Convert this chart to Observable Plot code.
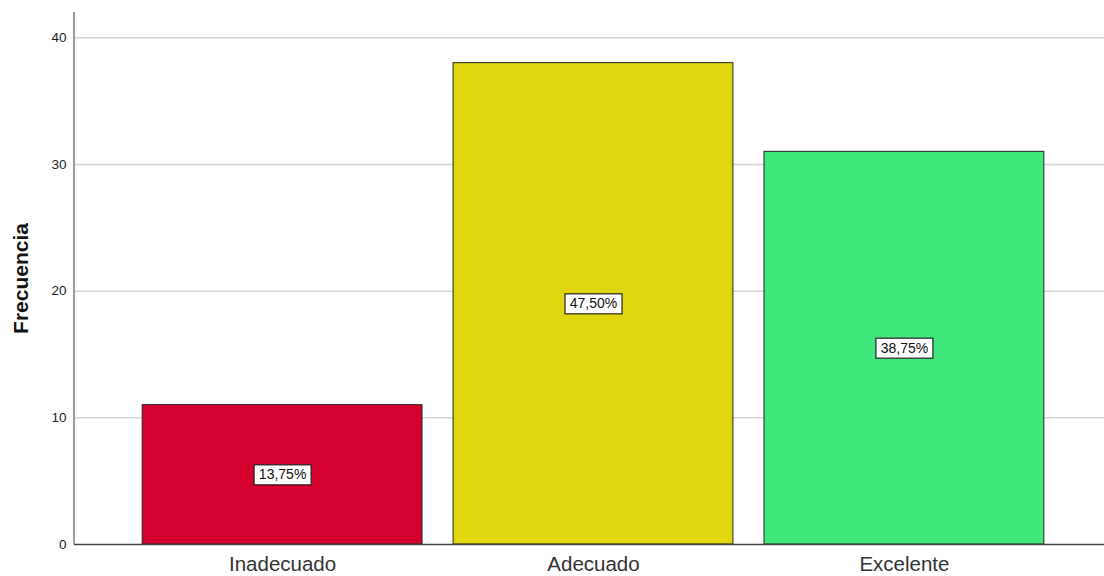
<!DOCTYPE html>
<html>
<head>
<meta charset="utf-8">
<script src="https://cdn.jsdelivr.net/npm/d3@7"></script>
<script src="https://cdn.jsdelivr.net/npm/@observablehq/plot@0.6"></script>
<style>
  html, body { margin: 0; padding: 0; background: #fff; }
  svg { display: block; }
</style>
</head>
<body>
<div id="chart"></div>
<script>
const categories = ["Inadecuado", "Adecuado", "Excelente"];
const counts = [11, 38, 31];
const percentLabels = ["13,75%", "47,50%", "38,75%"];
const colors = ["#D6002F", "#E2D70E", "#40E87C"];
const yTicks = [0, 10, 20, 30, 40];

const data = categories.map((c, i) => ({cat: c, n: counts[i], pct: percentLabels[i], mid: counts[i] / 2}));

const SVGNS = "http://www.w3.org/2000/svg";

const boxedText = (index, scales, values, dims, ctx, next) => {
  const g = next(index, scales, values, dims, ctx);
  index.forEach((i) => {
    const w = 57, h = 20;
    const r = document.createElementNS(SVGNS, "rect");
    r.setAttribute("x", values.x[i] - w / 2);
    r.setAttribute("y", values.y[i] - h / 2);
    r.setAttribute("width", w);
    r.setAttribute("height", h);
    r.setAttribute("fill", "#fff");
    r.setAttribute("stroke", "#222");
    r.setAttribute("stroke-width", 1.2);
    g.insertBefore(r, g.firstChild);
  });
  return g;
};

const leftAxisLine = (index, scales, values, dims) => {
  const l = document.createElementNS(SVGNS, "line");
  l.setAttribute("x1", dims.marginLeft);
  l.setAttribute("x2", dims.marginLeft);
  l.setAttribute("y1", dims.marginTop);
  l.setAttribute("y2", dims.height - dims.marginBottom);
  l.setAttribute("stroke", "#9a9a9a");
  l.setAttribute("stroke-width", 2);
  return l;
};

const chart = Plot.plot({
  width: 1104,
  height: 576,
  marginLeft: 74,
  marginRight: 0,
  marginTop: 12,
  marginBottom: 32,
  style: {fontFamily: "Liberation Sans, Arial, sans-serif", background: "#fff"},
  x: {domain: categories, range: [80, 1106], paddingInner: 0.1, paddingOuter: 0.2, round: false, label: null},
  y: {domain: [0, 42], label: null},
  color: {domain: categories, range: colors},
  marks: [
    Plot.ruleY(yTicks.filter(d => d > 0), {stroke: "#d4d4d4", strokeWidth: 1.5}),
    Plot.barY(data, {x: "cat", y: "n", fill: "cat", stroke: "#222", strokeWidth: 1}),
    Plot.ruleY([0], {render: leftAxisLine}),
    Plot.ruleY([0], {stroke: "#444", strokeWidth: 1.5}),
    Plot.axisY({ticks: yTicks, tickSize: 0, tickPadding: 8, fontSize: 13.5, fill: "#222", label: null}),
    Plot.axisX({tickSize: 0, tickPadding: 12, fontSize: 20.5, fill: "#333", label: null}),
    Plot.text(data, {x: "cat", y: "mid", text: "pct", fontSize: 14, fill: "#111", render: boxedText}),
    Plot.text(["Frecuencia"], {frameAnchor: "left", textAnchor: "middle", dx: -53, rotate: -90, fontSize: 21, fontWeight: "bold", fill: "#111"})
  ]
});
document.getElementById("chart").appendChild(chart);
</script>
</body>
</html>
